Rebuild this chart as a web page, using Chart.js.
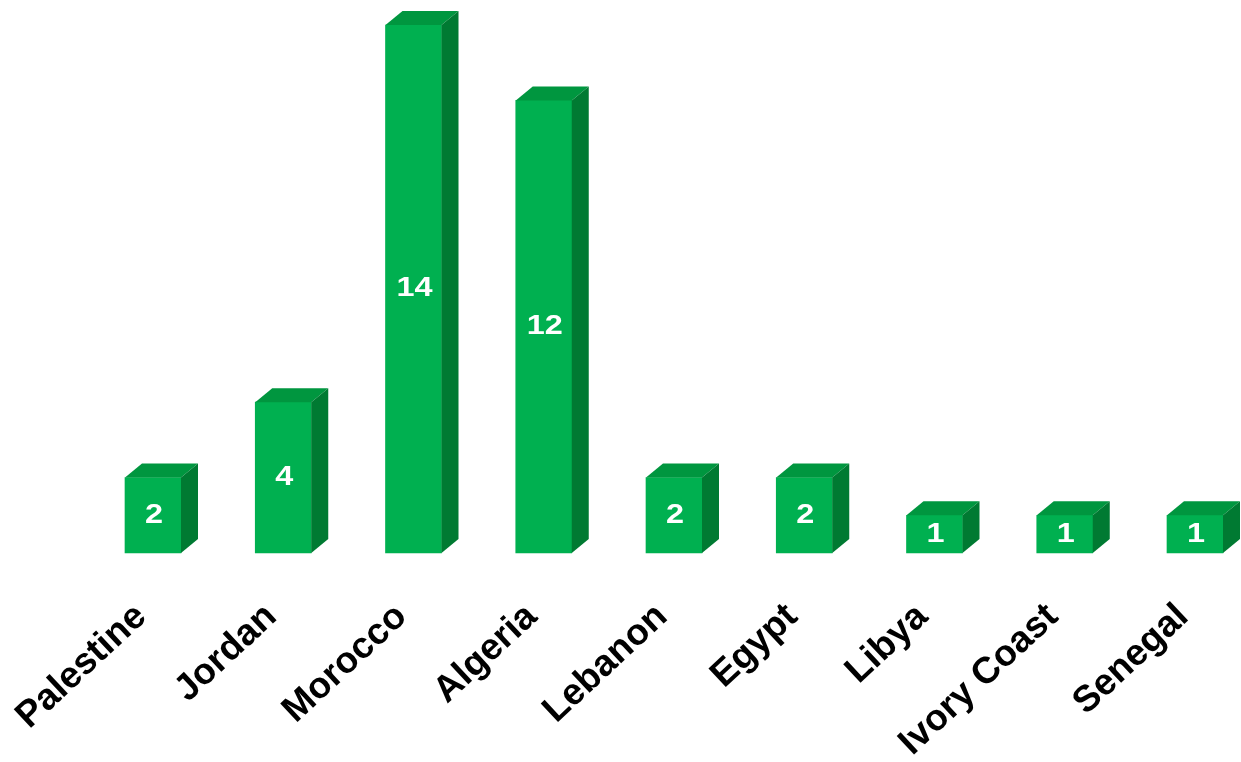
<!DOCTYPE html>
<html>
<head>
<meta charset="utf-8">
<script src="https://cdn.jsdelivr.net/npm/chart.js@4"></script>
<style>
  body { margin: 0; background: #fff; }
</style>
</head>
<body>
<canvas id="barChart" width="1241" height="762"></canvas>
<script>
const countries = ['Palestine', 'Jordan', 'Morocco', 'Algeria', 'Lebanon', 'Egypt', 'Libya', 'Ivory Coast', 'Senegal'];
const counts = [2, 4, 14, 12, 2, 2, 1, 1, 1];

const frontColor = '#00b050';
const topColor = '#00963f';
const sideColor = '#007a32';
const depthX = 17;
const depthY = 14;

// draws the top and side faces plus the white value in the front face
const bar3d = {
    id: 'bar3d',
    afterDatasetsDraw(chart) {
        const ctx = chart.ctx;
        const meta = chart.getDatasetMeta(0);
        meta.data.forEach((bar, i) => {
            const p = bar.getProps(['x', 'y', 'base', 'width'], true);
            const l = p.x - p.width / 2;
            const r = p.x + p.width / 2;
            const t = p.y;
            const b = p.base;
            ctx.save();
            ctx.fillStyle = topColor;
            ctx.beginPath();
            ctx.moveTo(l, t);
            ctx.lineTo(l + depthX, t - depthY);
            ctx.lineTo(r + depthX, t - depthY);
            ctx.lineTo(r, t);
            ctx.closePath();
            ctx.fill();
            ctx.fillStyle = sideColor;
            ctx.beginPath();
            ctx.moveTo(r, t);
            ctx.lineTo(r + depthX, t - depthY);
            ctx.lineTo(r + depthX, b - depthY);
            ctx.lineTo(r, b);
            ctx.closePath();
            ctx.fill();
            // value text, a bit wider than the plain font like in the original
            ctx.translate(p.x + 1, (t + b) / 2);
            ctx.scale(1.2, 1);
            ctx.fillStyle = '#ffffff';
            ctx.font = 'bold 27px "Liberation Sans", Arial, sans-serif';
            ctx.textAlign = 'center';
            ctx.textBaseline = 'middle';
            ctx.fillText(counts[i], 0, 0);
            ctx.restore();
        });
    }
};

const config = {
    type: 'bar',
    data: {
        labels: countries,
        datasets: [{
            data: counts,
            backgroundColor: frontColor,
            barThickness: 56,
            clip: false
        }]
    },
    options: {
        responsive: false,
        animation: false,
        devicePixelRatio: 1,
        layout: {
            padding: { left: 153, right: 46, top: 25, bottom: 0 }
        },
        plugins: {
            legend: { display: false },
            tooltip: { enabled: false }
        },
        scales: {
            x: {
                offset: false,
                grid: { display: false },
                border: { display: false },
                ticks: {
                    autoSkip: false,
                    minRotation: 43,
                    maxRotation: 43,
                    padding: 34,
                    labelOffset: -12,
                    color: '#000',
                    font: { family: '"Liberation Sans", Arial, sans-serif', weight: 'bold', size: 37 }
                },
                afterFit: (s) => {
                    s.height = 209;
                    s.paddingLeft = 0;
                    s.paddingRight = 0;
                }
            },
            y: {
                display: false,
                min: 0,
                max: 14
            }
        }
    },
    plugins: [bar3d]
};

document.addEventListener('DOMContentLoaded', () => {
    new Chart(document.getElementById('barChart'), config);
});
</script>
</body>
</html>
